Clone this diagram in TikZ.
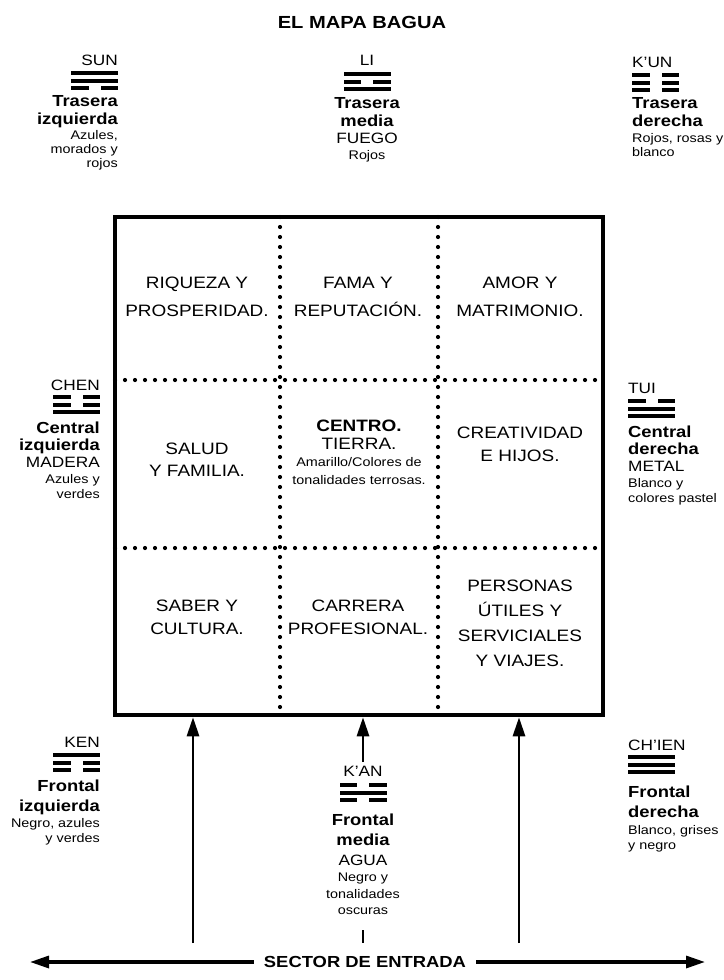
\documentclass[tikz,border=0pt]{standalone}
\usepackage{fontspec}
\setmainfont{Liberation Sans}[FakeStretch=1.15]
\usetikzlibrary{arrows.meta}
\newcommand{\tgbar}[3]{%
  \ifnum#3=1
    \fill ({#1-23.5},{#2-2}) rectangle ({#1+23.5},{#2+2});
  \else
    \fill ({#1-23.5},{#2-2}) rectangle ({#1-6},{#2+2});
    \fill ({#1+6},{#2-2}) rectangle ({#1+23.5},{#2+2});
  \fi}
\newcommand{\trig}[5]{\tgbar{#1}{#2}{#3}\tgbar{#1}{#2+7.5}{#4}\tgbar{#1}{#2+15}{#5}}
\begin{document}
\begin{tikzpicture}[x=1pt,y=-1pt,
  lab/.style={inner sep=0pt, font=\fontsize{15}{17}\selectfont},
  labb/.style={inner sep=0pt, font=\fontsize{16}{18}\selectfont\bfseries},
  sml/.style={inner sep=0pt, font=\fontsize{12.5}{14}\selectfont},
  cell/.style={inner sep=0pt, font=\fontsize{16.5}{18}\selectfont},
  dots/.style={line width=4.2pt, line cap=round, dash pattern=on 0pt off 10pt},
  uparrow/.style={line width=2.8pt, -{Triangle[length=19pt,width=12pt]}},
  sidearrow/.style={line width=3.2pt, -{Triangle[length=19pt,width=12pt]}}
]
\useasboundingbox (0,0) rectangle (723,980);
\fill[white] (0,0) rectangle (723,980);

% title
\node[inner sep=0pt, font=\fontsize{17.5}{19}\selectfont\bfseries, anchor=base] (title) at (362,28) {EL MAPA BAGUA};

% main square
\node[draw, line width=4.5pt, minimum width=488pt, minimum height=498pt, inner sep=0pt] (sq) at (359,466) {};
\draw[dots] (280,217) -- (280,715);
\draw[dots] (438,217) -- (438,715);
\draw[dots] (115,380) -- (603,380);
\draw[dots] (115,548) -- (603,548);

% cells row 1
\node[cell, anchor=base] (c11a) at (197,288) {RIQUEZA Y};
\node[cell, anchor=base] (c11b) at (197,316) {PROSPERIDAD.};
\node[cell, anchor=base] (c12a) at (358,288) {FAMA Y};
\node[cell, anchor=base] (c12b) at (358,316) {REPUTACIÓN.};
\node[cell, anchor=base] (c13a) at (520,288) {AMOR Y};
\node[cell, anchor=base] (c13b) at (520,316) {MATRIMONIO.};
% row 2
\node[cell, anchor=base] (c21a) at (197,454) {SALUD};
\node[cell, anchor=base] (c21b) at (197,476) {Y FAMILIA.};
\node[cell, anchor=base, font=\fontsize{16.5}{18}\selectfont\bfseries] (c22a) at (359,431) {CENTRO.};
\node[cell, anchor=base] (c22b) at (359,449) {TIERRA.};
\node[sml, anchor=base] (c22c) at (359,466) {Amarillo/Colores de};
\node[sml, anchor=base] (c22d) at (359,484) {tonalidades terrosas.};
\node[cell, anchor=base] (c23a) at (520,438) {CREATIVIDAD};
\node[cell, anchor=base] (c23b) at (520,461) {E HIJOS.};
% row 3
\node[cell, anchor=base] (c31a) at (197,611) {SABER Y};
\node[cell, anchor=base] (c31b) at (197,634) {CULTURA.};
\node[cell, anchor=base] (c32a) at (358,611) {CARRERA};
\node[cell, anchor=base] (c32b) at (358,634) {PROFESIONAL.};
\node[cell, anchor=base] (c33a) at (520,591) {PERSONAS};
\node[cell, anchor=base] (c33b) at (520,616) {ÚTILES Y};
\node[cell, anchor=base] (c33c) at (520,641) {SERVICIALES};
\node[cell, anchor=base] (c33d) at (520,666) {Y VIAJES.};

% SUN (top left)
\node[lab, anchor=base east] (sun) at (118,65) {SUN};
\trig{94.5}{73}{1}{1}{0}
\node[labb, anchor=base east] (suna) at (118,106) {Trasera};
\node[labb, anchor=base east] (sunb) at (118,124) {izquierda};
\node[sml, anchor=base east] (sunc) at (118,139) {Azules,};
\node[sml, anchor=base east] (sund) at (118,153) {morados y};
\node[sml, anchor=base east] (sune) at (118,167) {rojos};

% LI (top middle)
\node[lab, anchor=base] (li) at (367,65) {LI};
\trig{367}{74}{1}{0}{1}
\node[labb, anchor=base] (lia) at (367,108) {Trasera};
\node[labb, anchor=base] (lib) at (367,126) {media};
\node[lab, anchor=base] (lic) at (367,143) {FUEGO};
\node[sml, anchor=base] (lid) at (367,159) {Rojos};

% K'UN (top right)
\node[lab, anchor=base west] (kun) at (632,67) {K'UN};
\trig{655.5}{75}{0}{0}{0}
\node[labb, anchor=base west] (kuna) at (632,108) {Trasera};
\node[labb, anchor=base west] (kunb) at (632,126) {derecha};
\node[sml, anchor=base west] (kunc) at (632,142) {Rojos, rosas y};
\node[sml, anchor=base west] (kund) at (632,156) {blanco};

% CHEN (middle left)
\node[lab, anchor=base east] (chen) at (100,390) {CHEN};
\trig{76.5}{397}{0}{0}{1}
\node[labb, anchor=base east] (chena) at (100,433) {Central};
\node[labb, anchor=base east] (chenb) at (100,450) {izquierda};
\node[lab, anchor=base east] (chenc) at (100,467) {MADERA};
\node[sml, anchor=base east] (chend) at (100,483) {Azules y};
\node[sml, anchor=base east] (chene) at (100,498) {verdes};

% TUI (middle right)
\node[lab, anchor=base west] (tui) at (628,393) {TUI};
\trig{651.5}{401}{0}{1}{1}
\node[labb, anchor=base west] (tuia) at (628,437) {Central};
\node[labb, anchor=base west] (tuib) at (628,454) {derecha};
\node[lab, anchor=base west] (tuic) at (628,471) {METAL};
\node[sml, anchor=base west] (tuid) at (628,487) {Blanco y};
\node[sml, anchor=base west] (tuie) at (628,502) {colores pastel};

% KEN (bottom left)
\node[lab, anchor=base east] (ken) at (100,747) {KEN};
\trig{76.5}{755}{1}{0}{0}
\node[labb, anchor=base east] (kena) at (100,791) {Frontal};
\node[labb, anchor=base east] (kenb) at (100,811) {izquierda};
\node[sml, anchor=base east] (kenc) at (100,827) {Negro, azules};
\node[sml, anchor=base east] (kend) at (100,842) {y verdes};

% K'AN (bottom middle)
\node[lab, anchor=base] (kan) at (363,776) {K'AN};
\trig{363}{785}{0}{1}{0}
\node[labb, anchor=base] (kana) at (363,825) {Frontal};
\node[labb, anchor=base] (kanb) at (363,845) {media};
\node[lab, anchor=base] (kanc) at (363,865) {AGUA};
\node[sml, anchor=base] (kand) at (363,881) {Negro y};
\node[sml, anchor=base] (kane) at (363,898) {tonalidades};
\node[sml, anchor=base] (kanf) at (363,914) {oscuras};

% CH'IEN (bottom right)
\node[lab, anchor=base west] (chien) at (628,750) {CH'IEN};
\trig{651.5}{757}{1}{1}{1}
\node[labb, anchor=base west] (chiena) at (628,797) {Frontal};
\node[labb, anchor=base west] (chienb) at (628,817) {derecha};
\node[sml, anchor=base west] (chienc) at (628,834) {Blanco, grises};
\node[sml, anchor=base west] (chiend) at (628,849) {y negro};

% entrance arrows
\coordinate (la) at (193,943);
\coordinate (ra) at (519,943);
\coordinate (ma) at (363,762);
\draw[uparrow] (la) -- (la |- sq.south);
\draw[uparrow] (ra) -- (ra |- sq.south);
\draw[uparrow] (ma) -- (ma |- sq.south);
\coordinate (tickt) at (363,930);
\coordinate (tickb) at (363,943);
\draw[line width=2.8pt] (tickt) -- (tickb);

% sector de entrada
\node[inner sep=0pt, inner xsep=10pt, font=\fontsize{16}{18}\selectfont\bfseries] (sector) at (365,962) {SECTOR DE ENTRADA};
\coordinate (lend) at (30,962);
\coordinate (rend) at (705,962);
\draw[sidearrow] (sector.west) -- (lend);
\draw[sidearrow] (sector.east) -- (rend);
\end{tikzpicture}
\end{document}
